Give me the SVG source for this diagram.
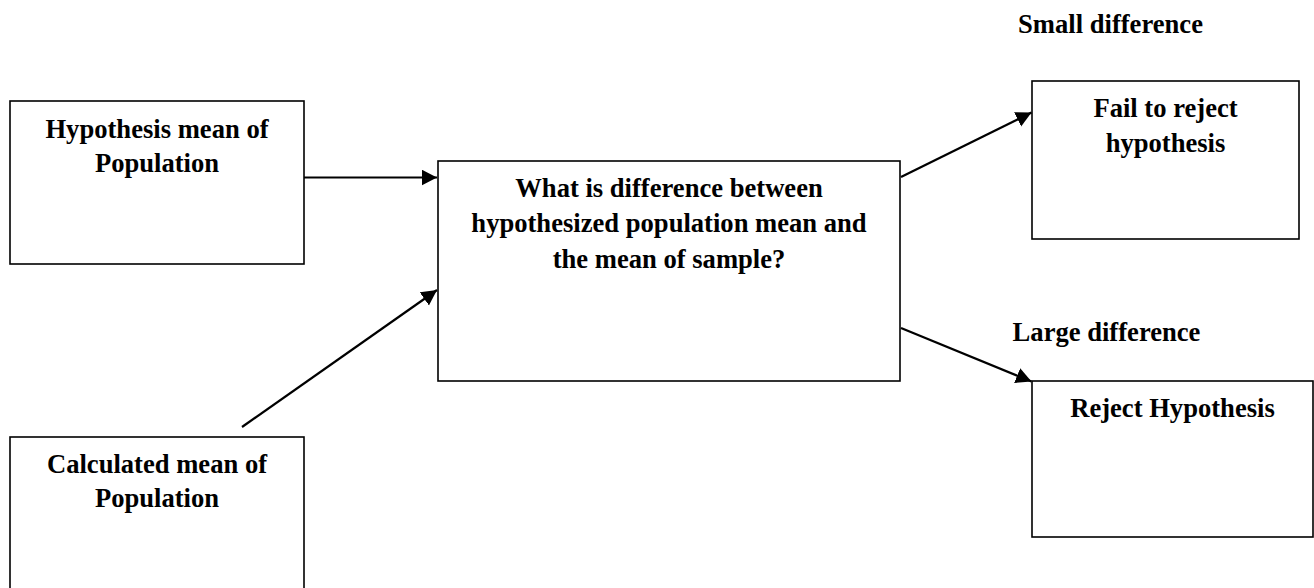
<svg xmlns="http://www.w3.org/2000/svg" width="1314" height="588" viewBox="0 0 1314 588">
<defs>
<style>
.box{fill:#fff;stroke:#000;stroke-width:1.6}
.t{font-family:"Liberation Serif","Times New Roman",serif;font-weight:bold;font-size:26.6px;fill:#000;text-anchor:middle}
.c{stroke:#000;stroke-width:2.2;fill:none}
</style>
<marker id="ah" markerUnits="userSpaceOnUse" markerWidth="17" markerHeight="17" refX="15.5" refY="8" orient="auto" viewBox="0 0 17 17">
<path d="M0,0 L15.5,8 L0,16 z" fill="#000"/>
</marker>
</defs>
<rect width="1314" height="588" fill="#fff"/>
<g id="connectors">
<line class="c" x1="304" y1="177.5" x2="437" y2="177.5" marker-end="url(#ah)"/>
<line class="c" x1="242" y1="427" x2="437" y2="290" marker-end="url(#ah)"/>
<line class="c" x1="901" y1="177" x2="1031.5" y2="112.5" marker-end="url(#ah)"/>
<line class="c" x1="901" y1="328" x2="1031.5" y2="381.5" marker-end="url(#ah)"/>
</g>
<g id="node-hypothesis">
<rect class="box" x="10" y="101" width="294" height="163"/>
<text class="t" x="157" y="138.3">Hypothesis mean of</text>
<text class="t" x="157" y="171.7">Population</text>
</g>
<g id="node-calculated">
<rect class="box" x="10" y="437" width="294" height="170"/>
<text class="t" x="157" y="473.3">Calculated mean of</text>
<text class="t" x="157" y="507.3">Population</text>
</g>
<g id="node-question">
<rect class="box" x="438" y="161" width="462" height="220"/>
<text class="t" x="669" y="196.7">What is difference between</text>
<text class="t" x="669" y="232.2">hypothesized population mean and</text>
<text class="t" x="669" y="267.7">the mean of sample?</text>
</g>
<g id="node-fail">
<rect class="box" x="1032" y="81" width="267" height="158"/>
<text class="t" x="1165.5" y="116.7">Fail to reject</text>
<text class="t" x="1165.5" y="151.7">hypothesis</text>
</g>
<g id="node-reject">
<rect class="box" x="1032" y="381" width="281" height="156"/>
<text class="t" x="1172.5" y="416.7">Reject Hypothesis</text>
</g>
<g id="labels">
<text class="t" x="1110.5" y="33.3">Small difference</text>
<text class="t" x="1106.5" y="340.7">Large difference</text>
</g>
</svg>
